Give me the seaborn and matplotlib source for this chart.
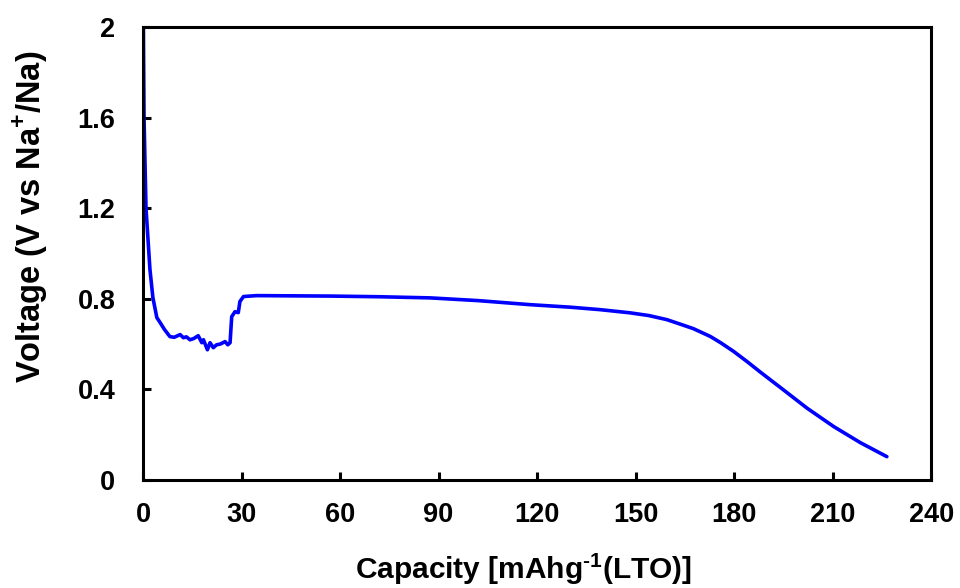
import numpy as np
import pandas as pd
from matplotlib import pyplot as plt
import seaborn as sns

# discharge curve
capacity = [0.1, 0.3, 0.9, 2.1, 3.0, 4.2, 5.2, 6.5, 7.7, 8.2, 9.5, 11.3, 12.3, 13.2, 14.3,
            15.5, 16.8, 17.9, 18.4, 19.6, 20.4, 21.4, 22.4, 23.5, 25.0, 25.8, 26.5,
            27.0, 28.0, 29.0, 29.5, 30.6, 34.6, 45.0, 57.0, 72.0, 87.4, 102.0, 117.9,
            130.0, 139.2, 148.3, 154.0, 159.5, 164.0, 167.6, 172.7, 176.0, 179.8, 184.0,
            188.0, 195.0, 202.2, 210.3, 218.4, 226.5]
voltage = [2.00, 1.60, 1.20, 0.93, 0.805, 0.717, 0.695, 0.665, 0.642, 0.633, 0.630, 0.642,
           0.628, 0.632, 0.619, 0.625, 0.637, 0.606, 0.619, 0.575, 0.606, 0.584, 0.597,
           0.600, 0.611, 0.597, 0.606, 0.721, 0.743, 0.739, 0.788, 0.810, 0.814, 0.813,
           0.812, 0.809, 0.804, 0.792, 0.774, 0.763, 0.752, 0.738, 0.726, 0.708, 0.686,
           0.668, 0.634, 0.605, 0.568, 0.522, 0.476, 0.398, 0.317, 0.236, 0.165, 0.103]

x_ticks = [0, 30, 60, 90, 120, 150, 180, 210, 240]
y_ticks = [0, 0.4, 0.8, 1.2, 1.6, 2.0]
y_tick_labels = ['0', '0.4', '0.8', '1.2', '1.6', '2']

df = pd.DataFrame({'Capacity': capacity, 'Voltage': voltage})

sns.set_style('ticks')
plt.rcParams['font.family'] = ['Liberation Sans', 'DejaVu Sans']
plt.rcParams['font.weight'] = 'bold'
plt.rcParams['text.color'] = 'black'
plt.rcParams['axes.labelcolor'] = 'black'
plt.rcParams['mathtext.fontset'] = 'custom'
plt.rcParams['mathtext.rm'] = 'Liberation Sans:bold'
plt.rcParams['mathtext.bf'] = 'Liberation Sans:bold'

fig = plt.figure(figsize=(9.6, 5.88), dpi=100)
ax = fig.add_axes([0.149, 0.1837, 0.821, 0.7704])

sns.lineplot(data=df, x='Capacity', y='Voltage', sort=False, estimator=None,
             color='#0000ff', linewidth=2.6, ax=ax)

ax.set_xlim(0, 240)
ax.set_ylim(0, 2)
ax.set_xticks(x_ticks)
ax.set_yticks(y_ticks)
ax.set_yticklabels(y_tick_labels)

for side in ['left', 'right', 'top', 'bottom']:
    ax.spines[side].set_visible(True)
    ax.spines[side].set_linewidth(2.2)
    ax.spines[side].set_color('black')

ax.tick_params(axis='both', direction='in', length=6, width=2.2, labelsize=19.5, colors='black')
ax.tick_params(axis='y', pad=20)
ax.tick_params(axis='x', pad=16)
for lbl in ax.get_xticklabels() + ax.get_yticklabels():
    lbl.set_fontweight('bold')

ax.set_xlabel(r'Capacity [mAhg$^{\text{-1}}$(LTO)]', fontsize=21.5, fontweight='bold', color='black')
ax.set_ylabel(r'Voltage (V vs Na$^{\text{+}}$/Na)', fontsize=23.5, fontweight='bold', color='black')
ax.xaxis.set_label_coords(0.483, -0.158)
ax.yaxis.set_label_coords(-0.118, 0.58)

plt.savefig('out.png', dpi=100)
